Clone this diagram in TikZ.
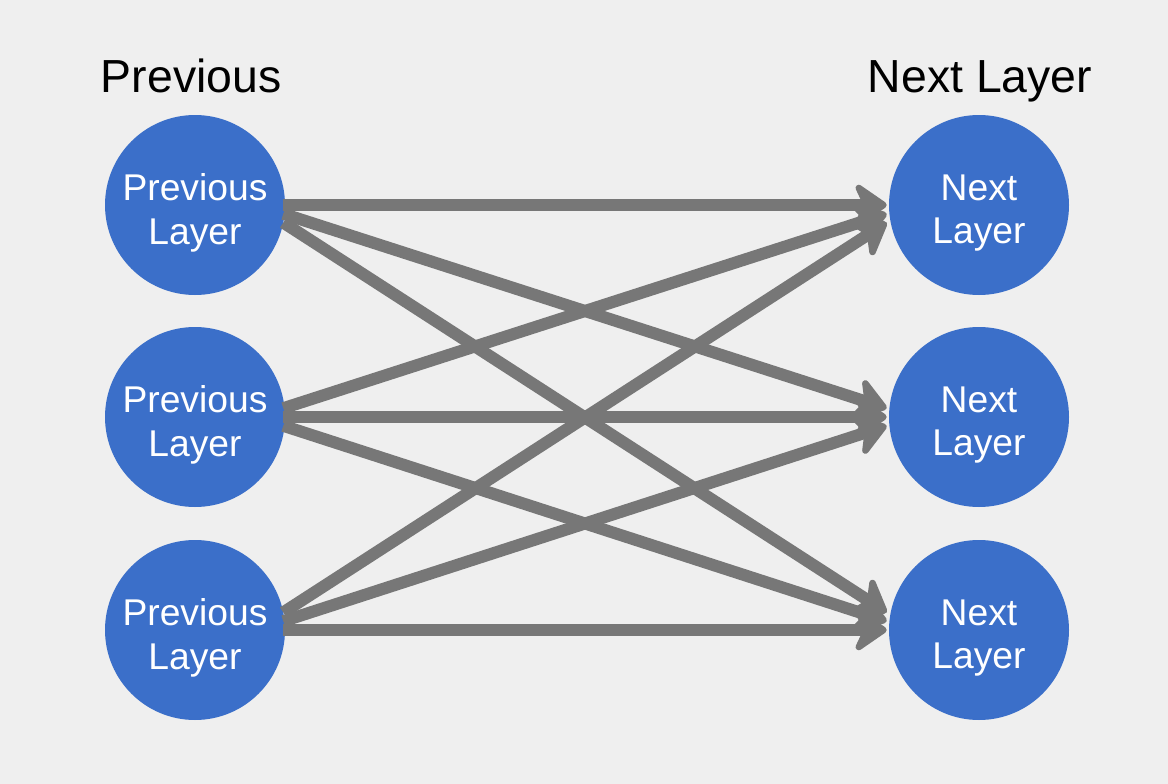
\documentclass[tikz,border=0pt]{standalone}
\usepackage{fontspec}
\setmainfont{Liberation Sans}
\usepackage{tikz}
\usetikzlibrary{arrows.meta}

\definecolor{bgGray}{HTML}{EFEFEF}
\definecolor{unitBlue}{HTML}{3B6FC9}
\definecolor{linkGray}{HTML}{777777}

\tikzset{
  unit/.style={circle,fill=unitBlue,minimum size=4.5cm,inner sep=0pt},
  unittext/.style={text=white,align=center,inner sep=0pt,
    font=\fontsize{26.5}{31}\selectfont},
  link/.style={draw=linkGray,line width=0.3cm,
    -{Stealth[round,length=0.95cm,width=1.3cm,inset=0.3cm]}},
  title/.style={anchor=base,font=\fontsize{33}{38}\selectfont}
}

\begin{document}
\begin{tikzpicture}
  \fill[bgGray] (0,0) rectangle (29.2,-19.6);
  \useasboundingbox (0,0) rectangle (29.2,-19.6);

  \node[title] (tprev) at (4.78,-2.3) {Previous};
  \node[title] (tnext) at (24.5,-2.3) {Next Layer};

  \node[unit] (p1) at (4.875,-5.125) {};
  \node[unit] (p2) at (4.875,-10.425) {};
  \node[unit] (p3) at (4.875,-15.75) {};
  \node[unit] (n1) at (24.475,-5.125) {};
  \node[unit] (n2) at (24.475,-10.425) {};
  \node[unit] (n3) at (24.475,-15.75) {};

  \foreach \i in {1,2,3} {
    \node[unittext] (p\i t) at ([yshift=-0.2cm]p\i) {Previous\\Layer};
    \node[unittext] (n\i t) at ([yshift=-0.2cm]n\i) {Next\\Layer};
  }

  % ends spread a little towards the other side
  \foreach \i in {1,2,3}
    \foreach \j in {1,2,3}
      \draw[link] ([xshift=-0.05cm,yshift={(\i-\j)*0.22cm}]p\i.east)
        -- ([xshift=-0.05cm,yshift={(\j-\i)*0.22cm}]n\j.west);
\end{tikzpicture}
\end{document}
